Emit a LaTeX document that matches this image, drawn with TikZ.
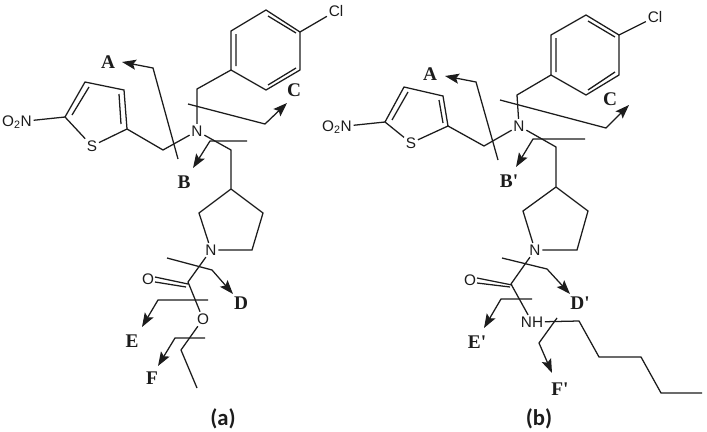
\documentclass[tikz,border=0pt]{standalone}
\usepackage{fontspec}
\setmainfont{Liberation Sans}
\newfontfamily\lblfont{Liberation Serif}
\newfontfamily\capfont{Carlito}
\usetikzlibrary{arrows.meta}
\definecolor{ink}{HTML}{1C1C1C}
\tikzset{
  bond/.style={draw=ink,line width=0.95pt,line join=miter},
  arrowline/.style={bond,-{Stealth[length=10.5pt,width=7.5pt,inset=2pt]}},
  atom/.style={text=ink,inner sep=1.2pt,font=\fontsize{11.5}{13}\selectfont},
  lbl/.style={text=ink,inner sep=0pt,font=\lblfont\bfseries\fontsize{14.5}{16}\selectfont},
  captext/.style={text=ink,inner sep=0pt,font=\capfont\bfseries\fontsize{17}{20}\selectfont},
  x=0.75pt,y=-0.75pt
}
\newcommand{\nitro}{O\textsubscript{2}N}
\begin{document}
\begin{tikzpicture}
\useasboundingbox (0,0) rectangle (707,432);
% ================= panel (a)
\node[atom] (aCl) at (336,11) {Cl};
\node[atom] (aN1) at (197,131) {N};
\node[atom] (aS) at (92,146) {S};
\node[atom] (aNO) at (17,122) {\nitro};
\node[atom] (aN2) at (211,250) {N};
\node[atom] (aOd) at (148,279) {O};
\node[atom] (aOs) at (203,319) {O};
\coordinate (ab1) at (231,31);
\coordinate (ab2) at (266,10);
\coordinate (ab3) at (300,32);
\coordinate (ab4) at (300,70);
\coordinate (ab5) at (266,90);
\coordinate (ab6) at (231,70);
\draw[bond] (ab1)--(ab2)--(ab3)--(ab4)--(ab5)--(ab6)--cycle;
\coordinate (ai1) at (236,34); \coordinate (ai2) at (236,66);
\coordinate (ai3) at (268,16); \coordinate (ai4) at (296,33);
\coordinate (ai5) at (296,68); \coordinate (ai6) at (268,85);
\draw[bond] (ai1)--(ai2) (ai3)--(ai4) (ai5)--(ai6);
\draw[bond] (ab3)--(aCl);
\coordinate (aCH1) at (197,89);
\draw[bond] (ab6)--(aCH1)--(aN1);
\coordinate (aCH2) at (163,150);
\coordinate (at1) at (127,129);
\coordinate (at2) at (124,90);
\coordinate (at3) at (85,82);
\coordinate (at4) at (65,117);
\draw[bond] (aN1)--(aCH2)--(at1)--(at2)--(at3)--(at4)--(aS)--(at1);
\coordinate (ati1) at (119,94); \coordinate (ati2) at (121,124);
\coordinate (ati3) at (72,115); \coordinate (ati4) at (89,87);
\draw[bond] (ati1)--(ati2) (ati3)--(ati4);
\draw[bond] (aNO)--(at4);
\coordinate (aA0) at (178,159); \coordinate (aA1) at (153,68); \coordinate (aA2) at (122,62);
\draw[arrowline] (aA0)--(aA1)--(aA2);
\node[lbl] (aLA) at (108,62) {A};
\coordinate (aC0) at (188,104); \coordinate (aC1) at (265,124); \coordinate (aC2) at (287,103);
\draw[arrowline] (aC0)--(aC1)--(aC2);
\node[lbl] (aLC) at (294,90) {C};
\coordinate (aB0) at (247,141); \coordinate (aB1) at (210,141); \coordinate (aB2) at (193,168);
\draw[arrowline] (aB0)--(aB1)--(aB2);
\node[lbl] (aLB) at (184,182) {B};
\coordinate (aCH3) at (231,150);
\coordinate (ar1) at (231,189);
\coordinate (ar2) at (199,213);
\coordinate (ar3) at (263,213);
\coordinate (ar4) at (252,250);
\draw[bond] (aN1)--(aCH3)--(ar1)--(ar2)--(aN2)--(ar4)--(ar3)--(ar1);
\coordinate (aCO) at (188,282);
\draw[bond] (aN2)--(aCO)--(aOs);
\coordinate (ad1) at (155,277); \coordinate (ad2) at (188,284);
\coordinate (ad3) at (155,282); \coordinate (ad4) at (186,287);
\draw[bond] (ad1)--(ad2) (ad3)--(ad4);
\coordinate (ae1) at (181,350); \coordinate (ae2) at (197,388);
\draw[bond] (aOs)--(ae1)--(ae2);
\coordinate (aD0) at (167,258); \coordinate (aD1) at (212,270); \coordinate (aD2) at (233,294);
\draw[arrowline] (aD0)--(aD1)--(aD2);
\node[lbl] (aLD) at (241,303) {D};
\coordinate (aE0) at (208,300); \coordinate (aE1) at (158,300); \coordinate (aE2) at (142,327);
\draw[arrowline] (aE0)--(aE1)--(aE2);
\node[lbl] (aLE) at (132,341) {E};
\coordinate (aF0) at (205,338); \coordinate (aF1) at (175,338); \coordinate (aF2) at (158,366);
\draw[arrowline] (aF0)--(aF1)--(aF2);
\node[lbl] (aLF) at (152,378) {F};
\node[captext] (capa) at (223,419) {(a)};
% ================= panel (b)
\node[atom] (bCl) at (655,17) {Cl};
\node[atom] (bN1) at (519,126) {N};
\node[atom] (bS) at (411,143) {S};
\node[atom] (bNO) at (337,127) {\nitro};
\node[atom] (bN2) at (535,250) {N};
\node[atom] (bOd) at (470,280) {O};
\node[atom] (bNH) at (532,322) {NH};
\coordinate (bb1) at (551,35);
\coordinate (bb2) at (586,15);
\coordinate (bb3) at (619,35);
\coordinate (bb4) at (619,75);
\coordinate (bb5) at (586,95);
\coordinate (bb6) at (551,75);
\draw[bond] (bb1)--(bb2)--(bb3)--(bb4)--(bb5)--(bb6)--cycle;
\coordinate (bi1) at (556,38); \coordinate (bi2) at (556,72);
\coordinate (bi3) at (588,21); \coordinate (bi4) at (615,37);
\coordinate (bi5) at (615,72); \coordinate (bi6) at (588,90);
\draw[bond] (bi1)--(bi2) (bi3)--(bi4) (bi5)--(bi6);
\draw[bond] (bb3)--(bCl);
\coordinate (bCH1) at (517,95);
\draw[bond] (bb6)--(bCH1)--(bN1);
\coordinate (bCH2) at (484,146);
\coordinate (bt1) at (448,126);
\coordinate (bt2) at (443,96);
\coordinate (bt3) at (404,87);
\coordinate (bt4) at (385,122);
\draw[bond] (bN1)--(bCH2)--(bt1)--(bt2)--(bt3)--(bt4)--(bS)--(bt1);
\coordinate (bti1) at (439,100); \coordinate (bti2) at (443,123);
\coordinate (bti3) at (392,120); \coordinate (bti4) at (408,92);
\draw[bond] (bti1)--(bti2) (bti3)--(bti4);
\draw[bond] (bNO)--(bt4);
\coordinate (bA0) at (498,160); \coordinate (bA1) at (476,82); \coordinate (bA2) at (445,76);
\draw[arrowline] (bA0)--(bA1)--(bA2);
\node[lbl] (bLA) at (430,74) {A};
\coordinate (bC0) at (500,100); \coordinate (bC1) at (606,128); \coordinate (bC2) at (629,105);
\draw[arrowline] (bC0)--(bC1)--(bC2);
\node[lbl] (bLC) at (610,99) {C};
\coordinate (bB0) at (585,139); \coordinate (bB1) at (533,139); \coordinate (bB2) at (516,167);
\draw[arrowline] (bB0)--(bB1)--(bB2);
\node[lbl] (bLB) at (509,181) {B'};
\coordinate (bCH3) at (556,147);
\coordinate (br1) at (556,187);
\coordinate (br2) at (523,211);
\coordinate (br3) at (588,211);
\coordinate (br4) at (577,250);
\draw[bond] (bN1)--(bCH3)--(br1)--(br2)--(bN2)--(br4)--(br3)--(br1);
\coordinate (bCO) at (511,284);
\draw[bond] (bN2)--(bCO)--(bNH);
\coordinate (bd1) at (477,278); \coordinate (bd2) at (512,285);
\coordinate (bd3) at (477,283); \coordinate (bd4) at (510,287);
\draw[bond] (bd1)--(bd2) (bd3)--(bd4);
\coordinate (bh1) at (579,321); \coordinate (bh2) at (599,357);
\coordinate (bh3) at (641,357); \coordinate (bh4) at (661,393);
\coordinate (bh5) at (702,393);
\draw[bond] (bNH)--(bh1)--(bh2)--(bh3)--(bh4)--(bh5);
\coordinate (bD0) at (502,258); \coordinate (bD1) at (547,269); \coordinate (bD2) at (570,294);
\draw[arrowline] (bD0)--(bD1)--(bD2);
\node[lbl] (bLD) at (580,303) {D'};
\coordinate (bE0) at (532,299); \coordinate (bE1) at (501,299); \coordinate (bE2) at (484,328);
\draw[arrowline] (bE0)--(bE1)--(bE2);
\node[lbl] (bLE) at (477,342) {E'};
\coordinate (bF0) at (557,318); \coordinate (bF1) at (539,343); \coordinate (bF2) at (552,373);
\draw[arrowline] (bF0)--(bF1)--(bF2);
\node[lbl] (bLF) at (560,389) {F'};
\node[captext] (capb) at (539,419) {(b)};
\end{tikzpicture}
\end{document}
